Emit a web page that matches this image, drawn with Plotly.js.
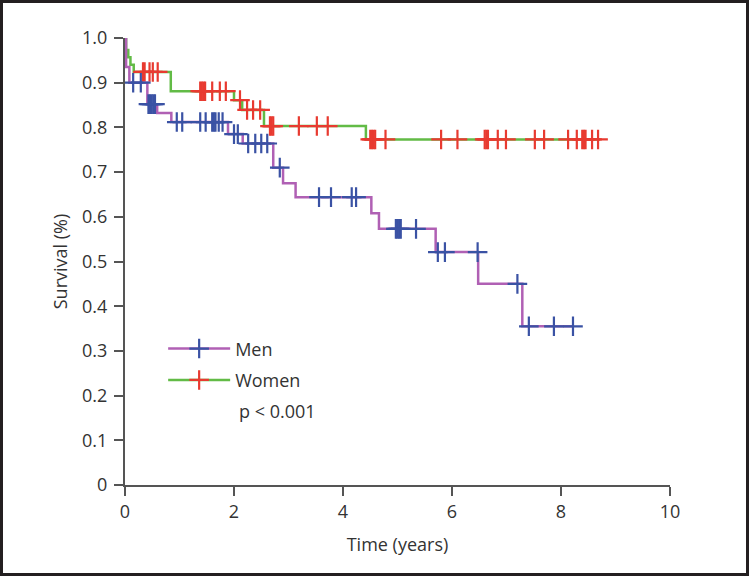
<!DOCTYPE html>
<html><head><meta charset="utf-8">
<script src="https://cdn.plot.ly/plotly-3.0.1.min.js"></script>
<style>
html,body{margin:0;padding:0;background:#fff;}
#wrap{position:relative;width:749px;height:576px;}
#chart{width:749px;height:576px;}
#frame{position:absolute;left:0;top:0;width:749px;height:576px;box-sizing:border-box;border:3px solid #231f20;pointer-events:none;}
</style></head><body>
<div id="wrap"><div id="chart"></div><div id="frame"></div></div>
<script>
// Kaplan-Meier step data
const menStepTimes = [0, 0.02, 0.08, 0.41, 0.59, 0.85, 1.89, 2.16, 2.72, 2.90, 3.13, 4.52, 4.66, 5.70, 6.48, 7.29, 8.22];
const menStepSurv  = [1.0, 0.935, 0.90, 0.852, 0.832, 0.812, 0.785, 0.764, 0.71, 0.675, 0.644, 0.608, 0.573, 0.521, 0.45, 0.355, 0.355];
const menCensorTimes = [0.15, 0.29, 0.43, 0.46, 0.49, 0.52, 0.55, 0.95, 1.05, 1.38, 1.48, 1.60, 1.63, 1.66, 1.72, 1.79,
  2.0, 2.07, 2.26, 2.39, 2.50, 2.61, 2.84, 3.56, 3.78, 4.16, 4.24, 4.97, 5.0, 5.03, 5.06, 5.34, 5.74, 5.87, 6.47, 7.20, 7.41, 7.87, 8.22];

const womenStepTimes = [0, 0.02, 0.06, 0.10, 0.16, 0.84, 2.0, 2.15, 2.55, 4.42, 8.72];
const womenStepSurv  = [1.0, 0.973, 0.957, 0.94, 0.924, 0.881, 0.861, 0.839, 0.803, 0.773, 0.773];
const womenCensorTimes = [0.33, 0.36, 0.45, 0.51, 0.60, 1.38, 1.41, 1.44, 1.47, 1.60, 1.74, 1.85, 2.11, 2.24, 2.35, 2.48,
  2.66, 2.69, 2.72, 3.19, 3.52, 3.72, 4.50, 4.53, 4.56, 4.59, 4.78, 5.80, 6.10, 6.60, 6.63, 6.66, 6.84, 6.99,
  7.52, 7.69, 8.13, 8.29, 8.39, 8.42, 8.45, 8.57, 8.68];

const seriesNames = ['Men', 'Women'];
const xTickVals = [0, 2, 4, 6, 8, 10];
const yTickVals = [0, 0.1, 0.2, 0.3, 0.4, 0.5, 0.6, 0.7, 0.8, 0.9, 1.0];
const yTickText = ['0', '0.1', '0.2', '0.3', '0.4', '0.5', '0.6', '0.7', '0.8', '0.9', '1.0'];
const pText = 'p < 0.001';

function levelAt(times, surv, t) {
  let s = surv[0];
  for (let i = 0; i < times.length; i++) { if (times[i] <= t) s = surv[i]; }
  return s;
}
const menCensorSurv = menCensorTimes.map(t => levelAt(menStepTimes, menStepSurv, t));
const womenCensorSurv = womenCensorTimes.map(t => levelAt(womenStepTimes, womenStepSurv, t));

const purple = '#b060b4', green = '#62bb46', blue = '#3a52a4', red = '#e83a30';
const FONT = 'Open Sans, Noto Sans, sans-serif';
const crossMarker = c => ({symbol: 'cross-thin', size: 14, color: c, line: {color: c, width: 2.2}});

const traces = [
  {x: womenStepTimes, y: womenStepSurv, mode: 'lines', line: {shape: 'hv', color: green, width: 2.5}, showlegend: false, cliponaxis: false, hoverinfo: 'skip'},
  {x: womenCensorTimes, y: womenCensorSurv, mode: 'markers', marker: crossMarker(red), showlegend: false, cliponaxis: false},
  {x: menStepTimes, y: menStepSurv, mode: 'lines', line: {shape: 'hv', color: purple, width: 2.5}, showlegend: false, cliponaxis: false, hoverinfo: 'skip'},
  {x: menCensorTimes, y: menCensorSurv, mode: 'markers', marker: crossMarker(blue), showlegend: false, cliponaxis: false},
  {x: [null], y: [null], name: seriesNames[0], mode: 'lines+markers', line: {color: purple, width: 2.5}, marker: crossMarker(blue), legendgroup: 'a'},
  {x: [null], y: [null], name: seriesNames[1], mode: 'lines+markers', line: {color: green, width: 2.5}, marker: crossMarker(red), legendgroup: 'b'}
];

const axisCommon = {
  showline: true, linecolor: '#555', linewidth: 2, ticks: 'outside', ticklen: 9, tickwidth: 2, tickcolor: '#555',
  showgrid: false, zeroline: false, tickfont: {family: FONT, size: 18, color: '#333'}, fixedrange: true
};

const layout = {
  width: 749, height: 576,
  margin: {l: 125, r: 79, t: 38, b: 91},
  paper_bgcolor: '#ffffff', plot_bgcolor: '#ffffff',
  font: {family: FONT, size: 18, color: '#333'},
  xaxis: Object.assign({}, axisCommon, {range: [0, 10], tickvals: xTickVals, title: {text: 'Time (years)', font: {family: FONT, size: 18, color: '#333'}, standoff: 17}}),
  yaxis: Object.assign({}, axisCommon, {range: [0, 1], tickvals: yTickVals, ticktext: yTickText, ticklabelstandoff: 3, title: {text: 'Survival (%)', font: {family: FONT, size: 18, color: '#333'}, standoff: 10}}),
  showlegend: true,
  legend: {x: 0.07, y: 0.346, xanchor: 'left', yanchor: 'top', bgcolor: 'rgba(0,0,0,0)', font: {family: FONT, size: 18, color: '#333'}, tracegroupgap: 5, itemwidth: 62},
  annotations: [{text: pText, xref: 'paper', yref: 'paper', x: 0.205, y: 0.1655, xanchor: 'left', yanchor: 'middle', showarrow: false, font: {family: FONT, size: 18, color: '#333'}}]
};

Plotly.newPlot('chart', traces, layout, {displayModeBar: false, staticPlot: true});
</script>
</body></html>
